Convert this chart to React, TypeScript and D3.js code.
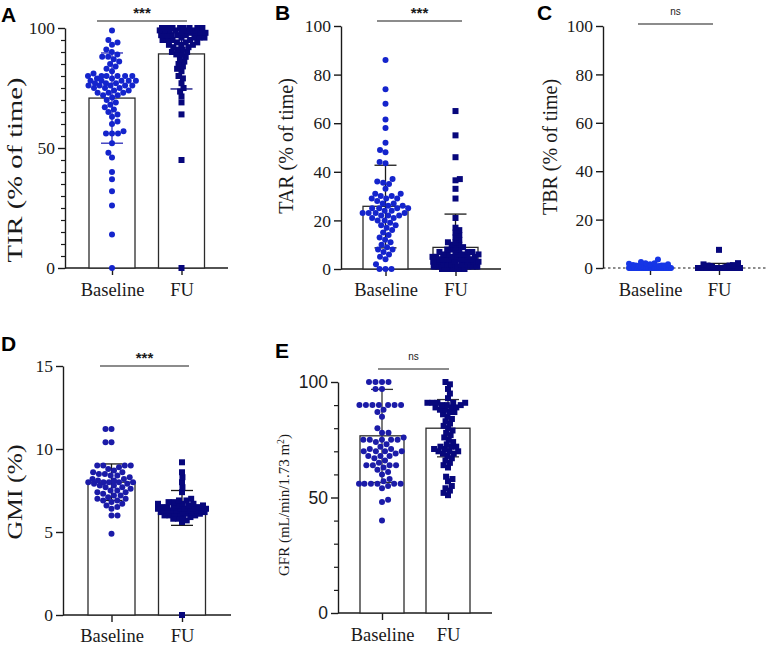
import { useEffect, useRef } from 'react';
import * as d3 from 'd3';

const groups = ['Baseline', 'FU'];

// A: time in range (% of time)
const tirBaseline = [99, 95, 94, 93, 91, 90, 89, 88, 88, 87, 86, 85, 84, 83, 82, 81, 80, 80, 80, 80, 80, 80, 79, 79, 78, 78, 78, 78, 78, 77, 77, 77, 76, 76, 76, 76, 76, 75, 75, 75, 74, 74, 73, 73, 73, 72, 72, 71, 70, 69, 68, 67, 66, 65, 64, 63, 61, 60, 57, 56, 56, 56, 52, 48, 46, 40, 37, 32, 26, 14, 0];
const tirFollowUp = [100, 100, 100, 100, 100, 100, 100, 100, 99, 99, 99, 99, 99, 99, 98, 98, 98, 98, 98, 97, 97, 97, 97, 97, 96, 96, 96, 96, 95, 95, 95, 95, 94, 94, 94, 93, 93, 93, 92, 92, 91, 91, 90, 90, 89, 89, 88, 87, 86, 85, 84, 83, 82, 80, 79, 77, 75, 73.5, 71.5, 69, 64, 45, 0];
const tirMean = [70.8, 89.2];
const tirErr = [[52, 89.6], [74.6, 103.8]];

// B: time above range
const tarBaseline = [86, 74, 68, 61.5, 58, 52, 49, 48, 44, 43.5, 37, 36, 35.5, 35, 33, 31, 31, 30, 30, 29, 29, 29, 28, 27, 27, 26, 26, 25, 25, 25, 25, 24, 24, 23, 23, 23, 23, 22, 22, 22, 21, 21, 20, 20, 19, 18, 18, 17, 16, 15, 14, 13, 12, 11, 10, 9, 8, 8, 7, 6, 5, 4, 2, 0, 0, 0];
const tarFollowUp = [65, 55, 46, 37, 36.5, 33, 29, 21, 17, 16, 15, 14, 13, 12, 11, 11, 10, 10, 9, 9, 8, 8, 8, 7, 7, 7, 7, 6, 6, 6, 6, 6, 5, 5, 5, 5, 5, 5, 4, 4, 4, 4, 4, 4, 3, 3, 3, 3, 3, 3, 3, 2, 2, 2, 2, 2, 2, 1, 1, 1, 1, 1, 1, 1, 0, 0, 0, 0, 0, 0];
const tarMean = [25.8, 8.9];
const tarErr = [[8.7, 42.7], [0, 22.6]];

// C: time below range
const tbrBaseline = [3.5, 2.5, 2, 2, 1.8, 1.5, 1.5, 1.2, 1, 1, 1, 0.8, 0.8, 0.5, 0.5, 0.5, 0.3, 0.3, 0.2, 0.2, 0, 0, 0, 0, 0, 0, 0, 0, 0, 0, 0, 0, 0, 0, 0, 0, 0, 0, 0, 0, 0, 0, 0, 0, 0, 0, 0, 0, 0, 0, 0, 0, 0, 0, 0, 0, 0, 0, 0, 0, 0, 0, 0, 0, 0];
const tbrFollowUp = [7.5, 2, 1.5, 1.2, 1, 1, 0.8, 0.5, 0.5, 0.3, 0, 0, 0, 0, 0, 0, 0, 0, 0, 0, 0, 0, 0, 0, 0, 0, 0, 0, 0, 0, 0, 0, 0, 0, 0, 0, 0, 0, 0, 0, 0, 0, 0, 0, 0, 0, 0, 0, 0, 0, 0, 0, 0, 0, 0, 0, 0, 0, 0, 0];
const tbrMean = [0.5, 0.6];
const tbrErr = [[0, 1.4], [0, 1.9]];

// D: glucose management indicator (%)
const gmiBaseline = [11.2, 11.2, 10.4, 10.4, 9.0, 9.0, 9.0, 9.0, 8.9, 8.8, 8.7, 8.6, 8.6, 8.5, 8.5, 8.4, 8.4, 8.3, 8.2, 8.2, 8.1, 8.1, 8.0, 8.0, 8.0, 8.0, 8.0, 7.9, 7.9, 7.8, 7.8, 7.7, 7.7, 7.6, 7.5, 7.5, 7.4, 7.4, 7.3, 7.2, 7.2, 7.1, 7.0, 7.0, 6.9, 6.9, 6.8, 6.7, 6.6, 6.5, 6.4, 6.0, 6.0, 4.9];
const gmiFollowUp = [9.2, 8.6, 8.3, 8.0, 7.7, 7.4, 7.0, 6.9, 6.9, 6.8, 6.8, 6.7, 6.7, 6.7, 6.6, 6.6, 6.6, 6.5, 6.5, 6.5, 6.5, 6.4, 6.4, 6.4, 6.4, 6.4, 6.3, 6.3, 6.3, 6.3, 6.3, 6.3, 6.2, 6.2, 6.2, 6.2, 6.2, 6.1, 6.1, 6.1, 6.1, 6.0, 6.0, 6.0, 5.9, 5.9, 5.8, 5.8, 5.7, 5.6, 0];
const gmiMean = [8.0, 6.1];
const gmiErr = [[6.9, 9.1], [5.4, 7.5]];

// E: glomerular filtration rate
const gfrBaseline = [100, 100, 100, 100, 97, 97, 90, 90, 90, 90, 90, 90, 90, 88, 87, 85, 80, 78, 78, 76, 75, 75, 75, 75, 75, 74, 73, 72, 71, 71, 70, 70, 70, 70, 69, 68, 68, 68, 67, 66, 65, 64, 64, 64, 64, 63, 62, 61, 60, 58, 57, 56, 56, 56, 56, 56, 56, 55, 54, 49, 48, 40];
const gfrFollowUp = [100, 99, 97, 95, 93, 91, 91, 91, 91, 91, 90, 90, 90, 89, 89, 89, 88, 88, 87, 87, 86, 85, 84, 83, 82, 81, 80, 79, 78, 77, 76, 75, 74, 73, 72, 72, 72, 71, 71, 70, 70, 70, 69, 69, 68, 67, 66, 65, 64, 63, 59, 58, 57, 55, 54, 53, 52, 51];
const gfrMean = [76.7, 80];
const gfrErr = [[56.5, 96.8], [67.6, 92.4]];

const ink = '#1a1a1a';
const serif = "'Liberation Serif', 'Times New Roman', serif";
const sans = "'Liberation Sans', Arial, sans-serif";

interface Panel {
  letter: string;
  letterPos: [number, number];
  title: string;
  titleSup?: string;
  titlePos: [number, number];
  titleSize: number;
  titleLength?: number;
  values: number[][];
  mean: number[];
  err: number[][];
  domain: [number, number];
  ticks: number[];
  minorStep?: number;
  tickFont: string;
  left: number;
  right: number;
  top: number;
  bottom: number;
  centers: [number, number];
  barWidth: number;
  labelPad: number;
  colors: [string, string];
  errColors: [string, string];
  gap: [number, number];
  spread: number;
  dashedBase?: boolean;
  sig: { y: number; x1: number; x2: number; text: string };
}

const panels: Panel[] = [
  {
    letter: 'A', letterPos: [1, 22], title: 'TIR  (% of time)', titlePos: [22, 170], titleSize: 22, titleLength: 185,
    values: [tirBaseline, tirFollowUp], mean: tirMean, err: tirErr,
    domain: [0, 100], ticks: [0, 50, 100], minorStep: 5, tickFont: serif,
    left: 65, right: 228, top: 28, bottom: 268, centers: [112, 181.5], barWidth: 46, labelPad: 7.5,
    colors: ['#1424cc', '#07077c'], errColors: ['#2a2ab8', '#07077c'], gap: [6, 5], spread: 24,
    sig: { y: 21, x1: 97, x2: 187, text: '***' },
  },
  {
    letter: 'B', letterPos: [275, 20], title: 'TAR (% of time)', titlePos: [293, 146], titleSize: 20,
    values: [tarBaseline, tarFollowUp], mean: tarMean, err: tarErr,
    domain: [0, 100], ticks: [0, 20, 40, 60, 80, 100], tickFont: serif,
    left: 341, right: 501, top: 26, bottom: 269, centers: [385.5, 455.5], barWidth: 45, labelPad: 7,
    colors: ['#1424cc', '#07077c'], errColors: [ink, ink], gap: [6, 4.5], spread: 23,
    sig: { y: 21, x1: 377, x2: 462, text: '***' },
  },
  {
    letter: 'C', letterPos: [537, 20], title: 'TBR (% of time)', titlePos: [557, 147], titleSize: 20,
    values: [tbrBaseline, tbrFollowUp], mean: tbrMean, err: tbrErr,
    domain: [0, 100], ticks: [0, 20, 40, 60, 80, 100], tickFont: serif,
    left: 603, right: 768, top: 26, bottom: 268, centers: [650, 719], barWidth: 45, labelPad: 7.5,
    colors: ['#1636e6', '#07077c'], errColors: [ink, ink], gap: [5, 5], spread: 21, dashedBase: true,
    sig: { y: 24, x1: 638, x2: 713, text: 'ns' },
  },
  {
    letter: 'D', letterPos: [1, 351], title: 'GMI (%)', titlePos: [22, 492], titleSize: 22, titleLength: 95,
    values: [gmiBaseline, gmiFollowUp], mean: gmiMean, err: gmiErr,
    domain: [0, 15], ticks: [0, 5, 10, 15], tickFont: serif,
    left: 63, right: 231, top: 366, bottom: 615, centers: [111.5, 182], barWidth: 47, labelPad: 6.5,
    colors: ['#1b1ba8', '#07077c'], errColors: [ink, ink], gap: [6, 5], spread: 24,
    sig: { y: 366, x1: 100, x2: 189, text: '***' },
  },
  {
    letter: 'E', letterPos: [275, 358], title: 'GFR (mL/min/1.73 m', titleSup: '2', titlePos: [289, 505], titleSize: 15,
    values: [gfrBaseline, gfrFollowUp], mean: gfrMean, err: gfrErr,
    domain: [0, 100], ticks: [0, 50, 100], minorStep: 10, tickFont: sans,
    left: 338, right: 492, top: 382, bottom: 613, centers: [382, 448], barWidth: 44, labelPad: 7.5,
    colors: ['#1b1ba8', '#07077c'], errColors: ['#333', '#333'], gap: [6.5, 5], spread: 23,
    sig: { y: 369, x1: 378, x2: 449, text: 'ns' },
  },
];

interface Placed { v: number; x: number; y: number }

// Beeswarm: each point goes as close to the group centre as it can without
// touching the ones already placed; when the row is full it squeezes in.
function swarm(values: number[], y: d3.ScaleLinear<number, number>, gap: number, spread: number): Placed[] {
  const placed: Placed[] = [];
  const sorted = [...values].sort((a, b) => a - b);
  sorted.forEach((v, i) => {
    const py = y(v);
    const near = placed.filter(p => Math.abs(p.y - py) < gap);
    const free = (x: number) => near.every(p => (p.x - x) ** 2 + (p.y - py) ** 2 >= gap * gap - 1e-6);
    const cands = [0];
    near.forEach(p => {
      const dx = Math.sqrt(gap * gap - (p.y - py) ** 2);
      cands.push(p.x - dx, p.x + dx);
    });
    const ok = cands
      .filter(x => Math.abs(x) <= spread && free(x))
      .sort((a, b) => Math.abs(a) - Math.abs(b) || (i % 2 ? a - b : b - a));
    let x = 0;
    if (ok.length) {
      x = ok[0];
    } else {
      let best = -Infinity;
      for (let c = -spread; c <= spread; c += 0.5) {
        const d = d3.min(near, p => Math.hypot(p.x - c, p.y - py)) ?? Infinity;
        if (d > best + 1e-6 || (Math.abs(d - best) < 1e-6 && Math.abs(c) < Math.abs(x))) {
          best = d;
          x = c;
        }
      }
    }
    placed.push({ v, x, y: py });
  });
  return placed;
}

export default function App() {
  const svgRef = useRef<SVGSVGElement>(null);

  useEffect(() => {
    if (!svgRef.current) return;
    const svg = d3.select(svgRef.current);
    svg.selectAll('*').remove();

    svg.append('rect').attr('width', 768).attr('height', 648).attr('fill', '#fff');

    panels.forEach(p => {
      const g = svg.append('g');
      const y = d3.scaleLinear().domain(p.domain).range([p.bottom, p.top]);
      const x = d3.scalePoint<string>().domain(groups).range(p.centers);

      // minor ticks
      if (p.minorStep) {
        const minor = d3.range(p.domain[0], p.domain[1] + 1e-9, p.minorStep).filter(v => !p.ticks.includes(v));
        const m = g.append('g')
          .attr('transform', `translate(${p.left},0)`)
          .call(d3.axisLeft(y).tickValues(minor).tickSize(4).tickSizeOuter(0).tickFormat(() => ''));
        m.select('.domain').remove();
        m.selectAll('line').attr('stroke', ink).attr('stroke-width', 1.2);
      }

      // y axis
      const yAxis = g.append('g')
        .attr('transform', `translate(${p.left},0)`)
        .call(d3.axisLeft(y).tickValues(p.ticks).tickSize(7).tickPadding(3).tickSizeOuter(0).tickFormat(d3.format('d')));
      yAxis.attr('font-family', null).attr('font-size', null);
      yAxis.selectAll('line, path').attr('stroke', ink).attr('stroke-width', 1.4);
      yAxis.selectAll('text')
        .style('font-family', p.tickFont)
        .style('font-size', '17.5px')
        .attr('fill', ink);

      // x axis baseline
      g.append('line')
        .attr('x1', p.left)
        .attr('x2', p.right)
        .attr('y1', p.bottom)
        .attr('y2', p.bottom)
        .attr('stroke', ink)
        .attr('stroke-width', p.dashedBase ? 1.2 : 1.4)
        .attr('stroke-dasharray', p.dashedBase ? '2.5,2.5' : null);

      const xAxis = g.append('g')
        .attr('transform', `translate(0,${p.bottom})`)
        .call(d3.axisBottom(x).tickSize(7).tickPadding(p.labelPad));
      xAxis.attr('font-family', null).attr('font-size', null);
      xAxis.select('.domain').remove();
      xAxis.selectAll('line').attr('stroke', ink).attr('stroke-width', 1.4);
      xAxis.selectAll('text')
        .style('font-family', serif)
        .style('font-size', '18.5px')
        .attr('fill', ink);

      // mean bars
      g.selectAll('rect.bar')
        .data(groups)
        .join('rect')
        .attr('class', 'bar')
        .attr('x', d => x(d)! - p.barWidth / 2)
        .attr('width', p.barWidth)
        .attr('y', (_, i) => y(p.mean[i]))
        .attr('height', (_, i) => p.bottom - y(p.mean[i]))
        .attr('fill', '#fff')
        .attr('stroke', '#2b2b2b')
        .attr('stroke-width', 1.3);

      // error bars
      groups.forEach((grp, i) => {
        const cx = x(grp)!;
        const [lo, hi] = p.err[i];
        const c = p.errColors[i];
        g.append('line')
          .attr('x1', cx).attr('x2', cx)
          .attr('y1', y(Math.max(lo, p.domain[0])))
          .attr('y2', y(Math.min(hi, p.domain[1])))
          .attr('stroke', c)
          .attr('stroke-width', 1.3);
        [lo, hi].forEach(v => {
          if (v <= p.domain[0] || v > p.domain[1]) return;
          g.append('line')
            .attr('x1', cx - 11).attr('x2', cx + 11)
            .attr('y1', y(v)).attr('y2', y(v))
            .attr('stroke', c)
            .attr('stroke-width', 1.3);
        });
      });

      // individual values
      p.values.forEach((vals, i) => {
        const cx = x(groups[i])!;
        const pts = swarm(vals, y, p.gap[i], p.spread);
        if (i === 0) {
          g.append('g').selectAll('circle')
            .data(pts)
            .join('circle')
            .attr('cx', d => cx + d.x)
            .attr('cy', d => d.y)
            .attr('r', 3)
            .attr('fill', p.colors[i]);
        } else {
          g.append('g').selectAll('rect')
            .data(pts)
            .join('rect')
            .attr('x', d => cx + d.x - 3)
            .attr('y', d => d.y - 3)
            .attr('width', 6)
            .attr('height', 6)
            .attr('fill', p.colors[i]);
        }
      });

      // significance bracket
      g.append('line')
        .attr('x1', p.sig.x1).attr('x2', p.sig.x2)
        .attr('y1', p.sig.y).attr('y2', p.sig.y)
        .attr('stroke', ink)
        .attr('stroke-width', 1.2);
      const starred = p.sig.text === '***';
      g.append('text')
        .attr('x', (p.sig.x1 + p.sig.x2) / 2)
        .attr('y', starred ? p.sig.y - 3 : p.sig.y - 9)
        .attr('text-anchor', 'middle')
        .style('font-family', sans)
        .style('font-size', starred ? '15px' : '10px')
        .style('font-weight', starred ? 'bold' : 'normal')
        .attr('fill', ink)
        .text(p.sig.text);

      // y title
      const title = g.append('text')
        .attr('transform', `translate(${p.titlePos[0]},${p.titlePos[1]}) rotate(-90)`)
        .attr('text-anchor', 'middle')
        .style('font-family', serif)
        .style('font-size', `${p.titleSize}px`)
        .attr('fill', ink);
      if (p.titleLength) {
        title.attr('textLength', p.titleLength).attr('lengthAdjust', 'spacingAndGlyphs');
      }
      title.append('tspan').text(p.title);
      if (p.titleSup) {
        title.append('tspan')
          .style('font-size', `${p.titleSize * 0.65}px`)
          .attr('baseline-shift', 'super')
          .text(p.titleSup);
        title.append('tspan').text(')');
      }

      // panel letter
      g.append('text')
        .attr('x', p.letterPos[0])
        .attr('y', p.letterPos[1])
        .style('font-family', sans)
        .style('font-weight', 'bold')
        .style('font-size', '21px')
        .attr('fill', '#000')
        .text(p.letter);
    });
  }, []);

  return (
    <div style={{ position: 'absolute', left: 0, top: 0 }}>
      <svg ref={svgRef} width={768} height={648} style={{ display: 'block' }} />
    </div>
  );
}
